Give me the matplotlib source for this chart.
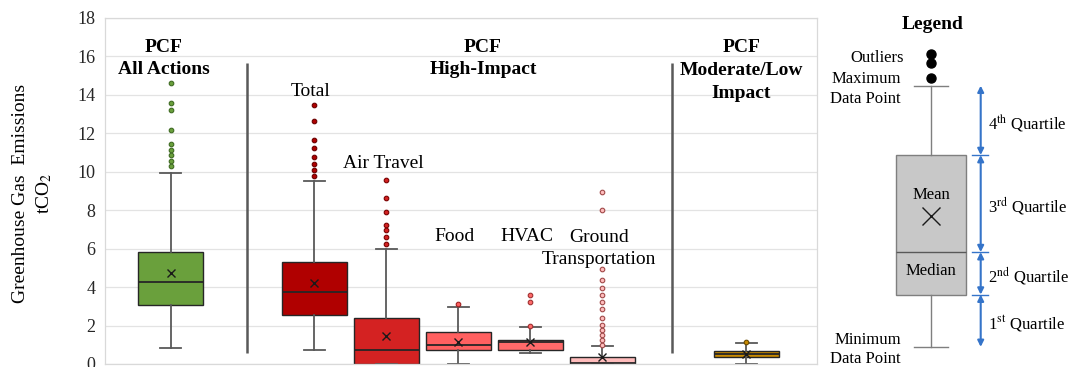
import matplotlib
matplotlib.use('Agg')
import matplotlib.pyplot as plt

plt.rcParams['font.family'] = ['Liberation Serif', 'DejaVu Serif']
plt.rcParams['mathtext.fontset'] = 'stix'

# ---------------- data ----------------
categories = ['All Actions', 'Total', 'Air Travel', 'Food', 'HVAC',
              'Ground Transportation', 'Moderate/Low Impact']
q1 = [3.07, 2.55, 0.00, 0.71, 0.73, 0.00, 0.36]
median = [4.29, 3.73, 0.72, 0.99, 1.13, 0.03, 0.54]
q3 = [5.82, 5.33, 2.37, 1.65, 1.25, 0.35, 0.68]
whislo = [0.85, 0.73, 0.00, 0.00, 0.56, 0.00, 0.00]
whishi = [9.96, 9.53, 5.99, 2.98, 1.91, 0.94, 1.11]
means = [4.76, 4.20, 1.47, 1.15, 1.16, 0.38, 0.54]
fliers = [
    [14.6, 13.6, 13.2, 12.15, 11.45, 11.15, 10.85, 10.55, 10.3],
    [13.5, 12.65, 11.65, 11.25, 10.75, 10.4, 10.1, 9.8],
    [9.55, 8.65, 7.9, 7.25, 6.95, 6.6, 6.25],
    [3.1],
    [3.6, 3.2, 2.0],
    [8.95, 8.0, 4.95, 4.35, 3.95, 3.6, 3.2, 2.85, 2.4, 2.05, 1.75, 1.5, 1.25, 1.0],
    [1.16],
]
box_labels = ['Total', 'Air Travel', 'Food', 'HVAC', 'Ground\nTransportation']
group_titles = ['PCF\nAll Actions', 'PCF\nHigh-Impact', 'PCF\nModerate/Low\nImpact']

# legend schematic values
leg_stats = dict(whislo=0.89, q1=3.61, med=5.82, q3=10.87, whishi=14.48, mean=7.71,
                 fliers=[16.13, 15.68, 14.88])

# ---------------- layout / style ----------------
positions = [1, 3, 4, 5, 6, 7, 9]
face_colors = ['#6aa03c', '#b00000', '#d42222', '#ff6060', '#ff6a6a', '#ffbcbc', '#c88a00']
flier_edges = ['#3f6b22', '#6a0000', '#7a0000', '#a02020', '#a03030', '#a04848', '#6b4a00']

fig = plt.figure(figsize=(10.68, 3.67), dpi=100)
W, H = 1068, 367
ax = fig.add_axes([105 / W, 3 / H, 712 / W, 346 / H])

stats = []
for i in range(len(categories)):
    stats.append(dict(label=categories[i], q1=q1[i], med=median[i], q3=q3[i],
                      whislo=whislo[i], whishi=whishi[i], mean=means[i], fliers=fliers[i]))

bp = ax.bxp(stats, positions=positions, widths=0.9, patch_artist=True, showmeans=True,
            boxprops=dict(edgecolor='#262626', linewidth=1.0),
            medianprops=dict(color='#262626', linewidth=1.3),
            whiskerprops=dict(color='#595959', linewidth=1.3),
            capprops=dict(color='#595959', linewidth=1.3),
            capwidths=0.3,
            meanprops=dict(marker='x', markeredgecolor='#1a1a1a', markersize=5.5,
                           markeredgewidth=1.0),
            flierprops=dict(marker='o', markersize=3.3, markeredgewidth=0.8))
for i, patch in enumerate(bp['boxes']):
    patch.set_facecolor(face_colors[i])
    bp['fliers'][i].set_markerfacecolor(face_colors[i])
    bp['fliers'][i].set_markeredgecolor(flier_edges[i])

ax.set_xlim(0.09, 9.98)
ax.set_ylim(0, 18)
ax.set_yticks(range(0, 19, 2))
ax.set_xticks([])
ax.tick_params(axis='y', length=0, labelsize=13, labelcolor='#262626', pad=7)
ax.grid(axis='y', color='#e3e3e3', linewidth=0.9)
ax.set_axisbelow(True)
for s in ax.spines.values():
    s.set_color('#d9d9d9')
    s.set_linewidth(0.9)

# separators
for xs in (2.06, 7.97):
    ax.plot([xs, xs], [0.57, 15.68], color='#595959', linewidth=1.8, solid_capstyle='butt')

# group titles
ax.text(0.91, 15.89, group_titles[0], ha='center', va='center', fontsize=14,
        fontweight='bold', linespacing=1.45)
ax.text(5.34, 15.89, group_titles[1], ha='center', va='center', fontsize=14,
        fontweight='bold', linespacing=1.45)
ax.text(8.93, 15.26, group_titles[2], ha='center', va='center', fontsize=14,
        fontweight='bold', linespacing=1.45)

# box labels
label_y = [14.17, 10.42, 6.61, 6.61, 5.99]
for lbl, p, y in zip(box_labels, positions[1:6], label_y):
    ax.text(p - 0.05, y, lbl, ha='center', va='center', fontsize=14, linespacing=1.4)

# y label
fig.text(33 / W, 1 - 193 / H, 'Greenhouse Gas  Emissions\ntCO$_2$', rotation=90,
         ha='center', va='center', multialignment='center', fontsize=14, linespacing=1.4)

# ---------------- legend schematic ----------------
lax = fig.add_axes([820 / W, 3 / H, 248 / W, 346 / H])
lax.set_xlim(0, 248)
lax.set_ylim(0, 18)
lax.axis('off')
lbp = lax.bxp([dict(label='', **leg_stats)], positions=[111], widths=70, patch_artist=True,
              showmeans=True,
              boxprops=dict(facecolor='#c8c8c8', edgecolor='#7f7f7f', linewidth=1.0),
              medianprops=dict(color='#595959', linewidth=1.0),
              whiskerprops=dict(color='#7f7f7f', linewidth=1.0),
              capprops=dict(color='#7f7f7f', linewidth=1.0),
              capwidths=34,
              meanprops=dict(marker='x', markeredgecolor='#1a1a1a', markersize=13,
                             markeredgewidth=1.0),
              flierprops=dict(marker='o', markerfacecolor='black', markeredgecolor='black',
                              markersize=6.5))
for a in lax.get_children():
    try:
        a.set_clip_on(False)
    except Exception:
        pass

lax.text(112.7, 17.66, 'Legend', ha='center', va='center', fontsize=14, fontweight='bold')
lax.text(84, 15.94, 'Outliers', ha='right', va='center', fontsize=12)
lax.text(81, 14.32, 'Maximum\nData Point', ha='right', va='center', fontsize=12,
         multialignment='right', linespacing=1.3)
lax.text(81, 0.76, 'Minimum\nData Point', ha='right', va='center', fontsize=12,
         multialignment='right', linespacing=1.3)
lax.text(111, 8.8, 'Mean', ha='center', va='center', fontsize=12)
lax.text(111, 4.86, 'Median', ha='center', va='center', fontsize=12)

bounds = [leg_stats['whishi'], leg_stats['q3'], leg_stats['med'], leg_stats['q1'],
          leg_stats['whislo']]
qlabels = ['4$^{\\rm th}$ Quartile', '3$^{\\rm rd}$ Quartile', '2$^{\\rm nd}$ Quartile',
           '1$^{\\rm st}$ Quartile']
arrow_col = '#3574c9'
ax_x = 160.7
for k in range(4):
    top, bot = bounds[k], bounds[k + 1]
    lax.annotate('', xy=(ax_x, bot), xytext=(ax_x, top),
                 arrowprops=dict(arrowstyle='<|-|>', color=arrow_col, lw=1.5,
                                 mutation_scale=9, shrinkA=0, shrinkB=0))
    lax.text(168, (top + bot) / 2 - 0.15, qlabels[k], ha='left', va='center', fontsize=12,
             clip_on=False)
for b in bounds[1:4]:
    lax.plot([151.7, 167.7], [b, b], color=arrow_col, linewidth=1.0, clip_on=False)

fig.savefig('out.png', dpi=100)
